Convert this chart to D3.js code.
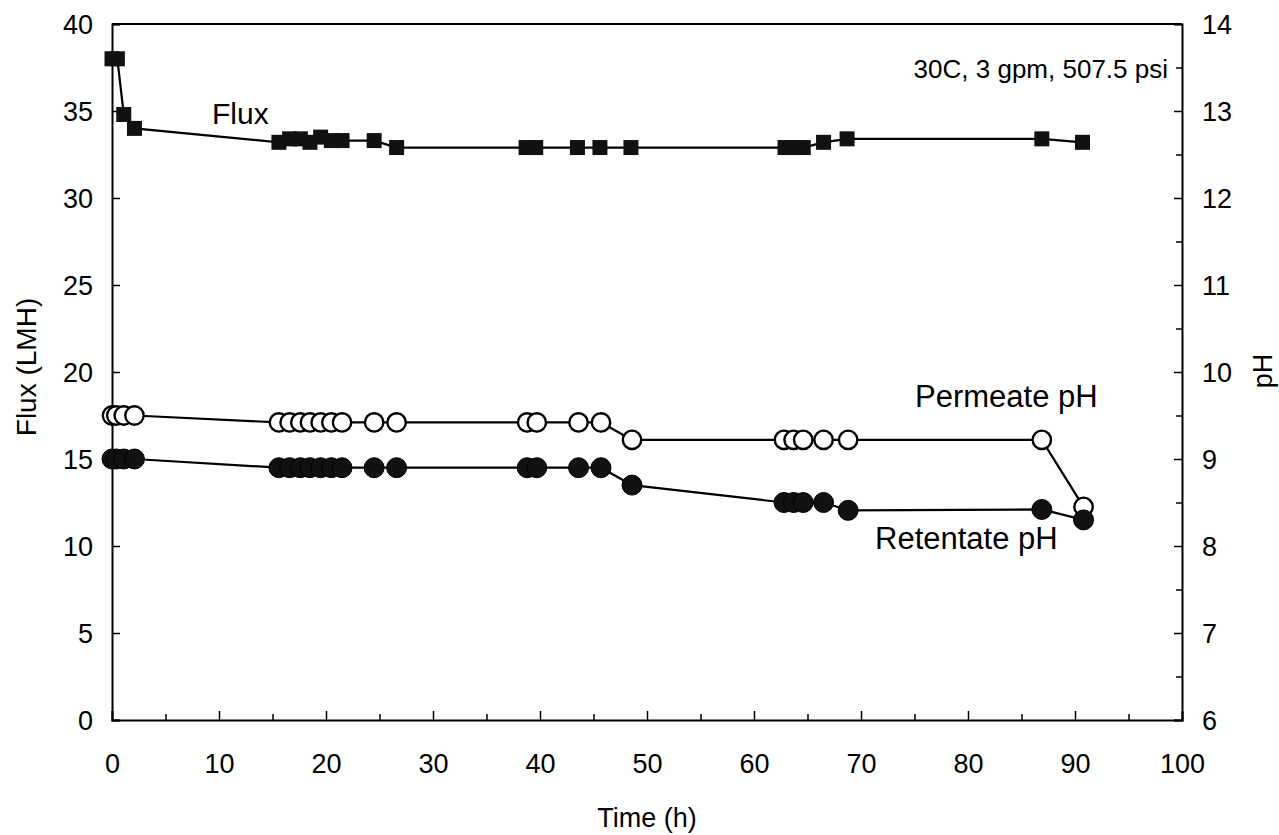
<!DOCTYPE html>
<html>
<head>
<meta charset="utf-8">
<script src="https://cdn.jsdelivr.net/npm/d3@7"></script>
<style>
  html, body { margin: 0; padding: 0; background: #fff; }
  svg { display: block; }
  text { font-family: "Liberation Sans", Arial, sans-serif; fill: #000; }
</style>
</head>
<body>
<svg id="chart" width="1279" height="835"></svg>
<script>
// Flux run: 30C, 3 gpm, 507.5 psi
const timeFlux = [0, 0.5, 1.1, 2.1, 15.6, 16.6, 17.6, 18.5, 19.5, 20.5, 21.5, 24.5, 26.6,
                  38.7, 39.6, 43.5, 45.6, 48.5, 62.9, 63.8, 64.6, 66.5, 68.7, 86.9, 90.7];
const flux = [38.0, 38.0, 34.8, 34.0, 33.2, 33.4, 33.4, 33.2, 33.5, 33.3, 33.3, 33.3, 32.9,
              32.9, 32.9, 32.9, 32.9, 32.9, 32.9, 32.9, 32.9, 33.2, 33.4, 33.4, 33.2];

const timePH = [0, 0.4, 1.1, 2.1, 15.6, 16.6, 17.6, 18.5, 19.5, 20.5, 21.5, 24.5, 26.6,
                38.8, 39.7, 43.6, 45.7, 48.6, 62.8, 63.7, 64.6, 66.5, 68.8, 86.9, 90.8];
const permeatePH = [9.5, 9.5, 9.5, 9.5, 9.42, 9.42, 9.42, 9.42, 9.42, 9.42, 9.42, 9.42, 9.42,
                    9.42, 9.42, 9.42, 9.42, 9.22, 9.22, 9.22, 9.22, 9.22, 9.22, 9.22, 8.45];
const retentatePH = [9.0, 9.0, 9.0, 9.0, 8.9, 8.9, 8.9, 8.9, 8.9, 8.9, 8.9, 8.9, 8.9,
                     8.9, 8.9, 8.9, 8.9, 8.7, 8.5, 8.5, 8.5, 8.5, 8.41, 8.42, 8.3];

const xTicks = [0, 10, 20, 30, 40, 50, 60, 70, 80, 90, 100];
const fluxTicks = [0, 5, 10, 15, 20, 25, 30, 35, 40];
const phTicks = [6, 7, 8, 9, 10, 11, 12, 13, 14];

const svg = d3.select("#chart");
const L = 112, R = 1182, T = 24, B = 720;

const x = d3.scaleLinear().domain([0, 100]).range([L, R]);
const yFlux = d3.scaleLinear().domain([0, 40]).range([B, T]);
const yPH = d3.scaleLinear().domain([6, 14]).range([B, T]);

const tickFont = 27;

// minor ticks
svg.append("g").attr("transform", `translate(0,${B})`)
  .call(d3.axisBottom(x).tickValues(d3.range(5, 100, 10)).tickSize(-6).tickFormat(""))
  .call(g => g.select(".domain").remove());
svg.append("g").attr("transform", `translate(${R},0)`)
  .call(d3.axisRight(yPH).tickValues(d3.range(6.5, 14, 1)).tickSize(-6).tickFormat(""))
  .call(g => g.select(".domain").remove());

// major axes
const gx = svg.append("g").attr("transform", `translate(0,${B})`)
  .call(d3.axisBottom(x).tickValues(xTicks).tickSize(-9).tickPadding(53).tickFormat(d3.format("d")));
gx.selectAll("text").attr("font-size", tickFont).attr("dy", 0).attr("font-family", null);

const gl = svg.append("g").attr("transform", `translate(${L},0)`)
  .call(d3.axisLeft(yFlux).tickValues(fluxTicks).tickSize(-8).tickPadding(19).tickFormat(d3.format("d")));
gl.selectAll("text").attr("font-size", tickFont).attr("dy", "0.35em").attr("font-family", null);

const gr = svg.append("g").attr("transform", `translate(${R},0)`)
  .call(d3.axisRight(yPH).tickValues(phTicks).tickSize(-8).tickPadding(20).tickFormat(d3.format("d")));
gr.selectAll("text").attr("font-size", tickFont).attr("dy", "0.35em").attr("font-family", null);

svg.selectAll(".tick line").attr("stroke", "#000").attr("stroke-width", 1.5);
svg.selectAll(".domain").attr("stroke", "#000").attr("stroke-width", 2);

// top border
svg.append("line").attr("x1", L).attr("x2", R).attr("y1", T).attr("y2", T)
  .attr("stroke", "#000").attr("stroke-width", 2);

// axis titles
svg.append("text").attr("x", (L + R) / 2).attr("y", 827).attr("text-anchor", "middle")
  .attr("font-size", 27).text("Time (h)");
svg.append("text").attr("transform", "translate(36,367) rotate(-90)").attr("text-anchor", "middle")
  .attr("font-size", 28).text("Flux (LMH)");
svg.append("text").attr("transform", "translate(1272,371) rotate(-90)").attr("text-anchor", "middle")
  .attr("font-size", 27).text("pH");

// series lines
const line = (xs, ys, yScale) => d3.line()
  .x((d, i) => x(xs[i])).y((d, i) => yScale(ys[i]))(ys);

svg.append("path").attr("d", line(timeFlux, flux, yFlux))
  .attr("fill", "none").attr("stroke", "#000").attr("stroke-width", 2.2);
svg.append("path").attr("d", line(timePH, permeatePH, yPH))
  .attr("fill", "none").attr("stroke", "#000").attr("stroke-width", 2.2);
svg.append("path").attr("d", line(timePH, retentatePH, yPH))
  .attr("fill", "none").attr("stroke", "#000").attr("stroke-width", 2.2);

// markers
const sq = 15;
svg.append("g").selectAll("rect").data(flux).join("rect")
  .attr("x", (d, i) => x(timeFlux[i]) - sq / 2)
  .attr("y", d => yFlux(d) - sq / 2)
  .attr("width", sq).attr("height", sq)
  .attr("fill", "#111");

svg.append("g").selectAll("circle").data(permeatePH).join("circle")
  .attr("cx", (d, i) => x(timePH[i])).attr("cy", d => yPH(d)).attr("r", 9.2)
  .attr("fill", "#fff").attr("stroke", "#000").attr("stroke-width", 2.4);

svg.append("g").selectAll("circle").data(retentatePH).join("circle")
  .attr("cx", (d, i) => x(timePH[i])).attr("cy", d => yPH(d)).attr("r", 10)
  .attr("fill", "#111").attr("stroke", "#000").attr("stroke-width", 1);

// annotations
svg.append("text").attr("x", 212).attr("y", 124).attr("font-size", 30).text("Flux");
svg.append("text").attr("x", 915).attr("y", 407).attr("font-size", 31).text("Permeate pH");
svg.append("text").attr("x", 875).attr("y", 549).attr("font-size", 31).text("Retentate pH");
svg.append("text").attr("x", 1168).attr("y", 78).attr("text-anchor", "end")
  .attr("font-size", 26).text("30C, 3 gpm, 507.5 psi");
</script>
</body>
</html>
